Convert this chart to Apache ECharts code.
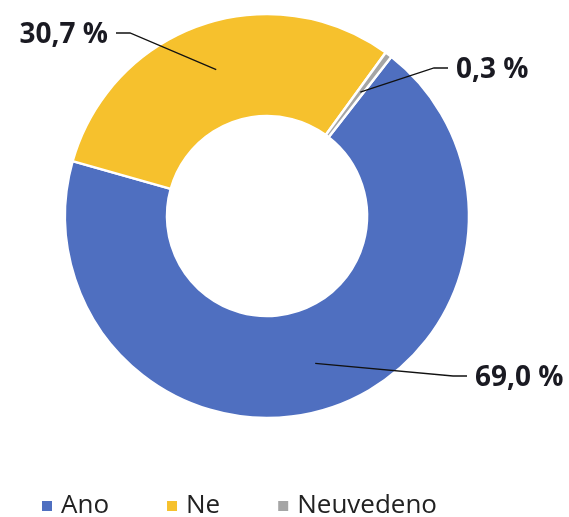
<!DOCTYPE html>
<html>
<head>
<meta charset="utf-8">
<script src="https://cdn.jsdelivr.net/npm/echarts@6/dist/echarts.min.js"></script>
<style>
  html, body { margin: 0; padding: 0; background: #fff; }
  #chart { width: 569px; height: 517px; }
</style>
</head>
<body>
<div id="chart"></div>
<script>
const categories = ['Ano', 'Ne', 'Neuvedeno']
const values = [69.0, 30.7, 0.3]
const valueLabels = ['69,0 %', '30,7 %', '0,3 %']
const colors = ['#4f6fc0', '#f6c12d', '#a5a5a5']

// where each label sits and which side its leader line comes from
const labelSpots = [
  { x: 475, y: 378, align: 'left' },
  { x: 108, y: 35, align: 'right' },
  { x: 456, y: 70, align: 'left' }
]

let myChart = echarts.init(document.getElementById('chart'))
const option = {
  animation: false,
  color: colors,
  legend: {
    data: categories,
    left: 35,
    top: 488,
    itemWidth: 12,
    itemHeight: 12,
    itemGap: 56,
    icon: 'rect',
    textStyle: {
      fontFamily: 'Open Sans',
      fontSize: 26,
      color: '#222',
      padding: [0, 0, 0, 3]
    }
  },
  series: [
    {
      type: 'pie',
      center: [267, 216],
      radius: [100, 202],
      startAngle: 52,
      clockwise: true,
      minAngle: 2,
      avoidLabelOverlap: false,
      itemStyle: {
        borderColor: '#fff',
        borderWidth: 2.5
      },
      label: {
        show: true,
        position: 'outside',
        fontFamily: 'Open Sans',
        fontWeight: 'bold',
        fontSize: 28,
        color: '#1a1a22',
        formatter: function (p) {
          return valueLabels[p.dataIndex]
        }
      },
      labelLine: { show: false },
      labelLayout: function (params) {
        const s = labelSpots[params.dataIndex]
        return {
          x: s.x,
          y: s.y,
          align: s.align,
          verticalAlign: 'middle'
        }
      },
      data: categories.map(function (name, i) {
        return { name: name, value: values[i] }
      })
    }
  ]
}
myChart.setOption(option)

// leader lines: start in the middle of the ring of each slice, end at its label
const pieData = myChart.getModel().getSeriesByIndex(0).getData()
const leaders = []
for (let i = 0; i < categories.length; i++) {
  const lay = pieData.getItemLayout(i)
  const mid = (lay.startAngle + lay.endAngle) / 2
  const rMid = (lay.r + lay.r0) / 2 + 4
  const start = [lay.cx + rMid * Math.cos(mid), lay.cy + rMid * Math.sin(mid)]
  const s = labelSpots[i]
  const dir = s.align === 'left' ? -1 : 1
  const end = [s.x + dir * 8, s.y - 2]
  const bend = [end[0] + dir * 14, end[1]]
  leaders.push({
    type: 'polyline',
    z: 100,
    silent: true,
    shape: { points: [start, bend, end] },
    style: { stroke: '#111', lineWidth: 1.3, fill: null }
  })
}
myChart.setOption({ graphic: leaders })
</script>
</body>
</html>
